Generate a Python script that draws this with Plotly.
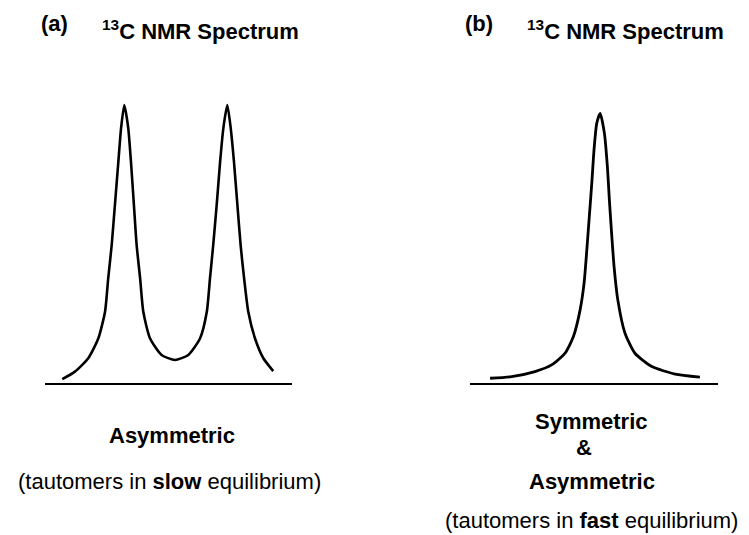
import plotly.graph_objects as go

# Panel (a): slow exchange -> two resolved peaks (shift in arbitrary units, normalised intensity)
shift_a = [7.0, 12.1, 17.5, 21.6, 24.3, 25.6, 27.0, 28.3, 29.7, 30.8, 32.1, 33.7, 34.8, 36.0,
           37.1, 38.5, 39.8, 42.5, 47.2, 52.6, 58.0, 62.8, 65.5, 66.8, 68.1, 69.5, 70.9, 72.2,
           73.8, 75.2, 76.5, 77.9, 79.2, 80.6, 82.3, 85.0, 88.4, 92.4]
inten_a = [0.014, 0.041, 0.089, 0.161, 0.256, 0.377, 0.496, 0.640, 0.796, 0.917, 1.0, 0.917, 0.796, 0.640,
           0.496, 0.377, 0.256, 0.161, 0.101, 0.083, 0.101, 0.161, 0.256, 0.377, 0.496, 0.640, 0.796, 0.916,
           1.0, 0.916, 0.796, 0.640, 0.496, 0.377, 0.256, 0.161, 0.089, 0.043]

# Panel (b): fast exchange -> one averaged peak
shift_b = [8.1, 16.8, 26.2, 32.9, 38.3, 41.7, 44.4, 46.0, 47.1, 48.1, 49.1, 50.0, 51.1, 52.5,
           54.2, 55.4, 56.2, 57.1, 58.1, 59.6, 62.5, 66.5, 73.3, 82.7, 92.7]
inten_b = [0.017, 0.023, 0.041, 0.065, 0.107, 0.167, 0.263, 0.359, 0.478, 0.598, 0.718, 0.838, 0.934, 0.970,
           0.898, 0.778, 0.658, 0.538, 0.418, 0.299, 0.179, 0.107, 0.059, 0.032, 0.021]

panel_labels = ["(a)", "(b)"]
panel_title = "<sup>13</sup>C NMR Spectrum"

W, H = 749, 535
FONT = "Liberation Sans, Arial, sans-serif"

fig = go.Figure()
fig.add_trace(go.Scatter(x=shift_a, y=inten_a, mode="lines", line=dict(color="black", width=2.6, shape="spline", smoothing=0.6),
                         xaxis="x", yaxis="y", showlegend=False, hoverinfo="skip"))
fig.add_trace(go.Scatter(x=shift_b, y=inten_b, mode="lines", line=dict(color="black", width=2.8, shape="spline", smoothing=0.6),
                         xaxis="x2", yaxis="y2", showlegend=False, hoverinfo="skip"))

ydom = [152 / H, (535 - (383 - 1.1 * 278)) / H]
ax_common = dict(range=[0, 100], showgrid=False, zeroline=False, showticklabels=False, ticks="",
                 showline=True, linecolor="black", linewidth=2, fixedrange=True)
ay_common = dict(range=[0, 1.1], domain=ydom, visible=False, showgrid=False, zeroline=False, fixedrange=True)

def px(x):
    return x / W

def py(y):
    return 1 - y / H

ann = []
def add_text(text, x, y, size, bold=False):
    ann.append(dict(text=(f"<b>{text}</b>" if bold else text), x=px(x), y=py(y), xref="paper", yref="paper",
                    showarrow=False, xanchor="center", yanchor="middle",
                    font=dict(family=FONT, size=size, color="black")))

add_text(panel_labels[0], 54, 24, 22, bold=True)
add_text(panel_labels[1], 479, 24, 22, bold=True)
add_text(panel_title, 200, 30, 22, bold=True)
add_text(panel_title, 625, 30, 22, bold=True)
add_text("Asymmetric", 171.5, 435, 22, bold=True)
add_text("(tautomers in <b>slow</b> equilibrium)", 169, 481, 22)
add_text("Symmetric", 591, 421, 22, bold=True)
add_text("&", 584, 447, 22, bold=True)
add_text("Asymmetric", 591.5, 481, 22, bold=True)
add_text("(tautomers in <b>fast</b> equilibrium)", 591.5, 520, 22)

fig.update_layout(
    width=W, height=H,
    margin=dict(l=0, r=0, t=0, b=0),
    paper_bgcolor="white", plot_bgcolor="white",
    xaxis=dict(domain=[45 / W, 292 / W], anchor="y", **ax_common),
    yaxis=dict(anchor="x", **ay_common),
    xaxis2=dict(domain=[470 / W, 718 / W], anchor="y2", **ax_common),
    yaxis2=dict(anchor="x2", **ay_common),
    annotations=ann,
)

fig.write_html("out.html", config={"displayModeBar": False})

# remove the browser's default page margin so the figure fills the window exactly
with open("out.html", encoding="utf-8") as f:
    html = f.read()
html = html.replace("<head>", "<head><style>html,body{margin:0;padding:0;overflow:hidden;}</style>", 1)
with open("out.html", "w", encoding="utf-8") as f:
    f.write(html)
